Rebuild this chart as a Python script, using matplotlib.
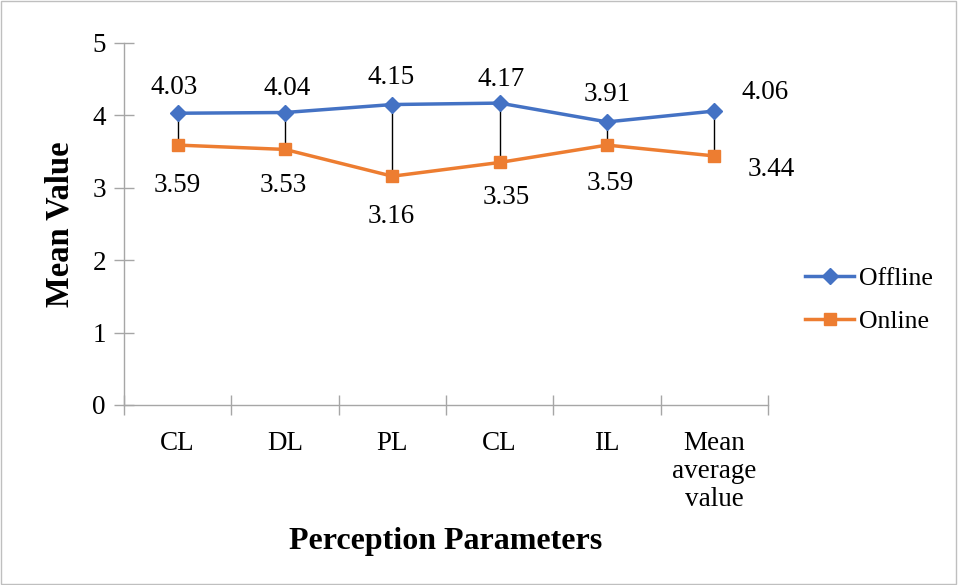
import matplotlib.pyplot as plt
from matplotlib.patches import Rectangle

categories = ['CL', 'DL', 'PL', 'CL', 'IL', 'Mean\naverage\nvalue']
offline = [4.03, 4.04, 4.15, 4.17, 3.91, 4.06]
online = [3.59, 3.53, 3.16, 3.35, 3.59, 3.44]

# label offsets in pixels (x, y) for each data label
offline_off = [(-4, 26), (2, 24), (-1, 27), (1, 24), (0, 27), (51, 19)]
online_off = [(0, -40), (-2, -36), (-1, -40), (7, -35), (3, -38), (57, -14)]

plt.rcParams['font.family'] = ['Liberation Serif', 'DejaVu Serif']

fig = plt.figure(figsize=(9.58, 5.85), dpi=100)
ax = fig.add_axes([124 / 958, 1 - 405 / 585, 644 / 958, 362 / 585])

x = list(range(len(categories)))
blue = '#4472C4'
orange = '#ED7D31'

# high-low lines
ax.vlines(x, online, offline, colors='black', linewidth=1, zorder=1)

ax.plot(x, offline, color=blue, lw=2.5, marker='D', markersize=8, label='Offline', zorder=3)
ax.plot(x, online, color=orange, lw=2.5, marker='s', markersize=9, label='Online', zorder=3)

for i in x:
    ax.annotate(f'{offline[i]:.2f}', (i, offline[i]), xytext=offline_off[i],
                textcoords='offset pixels', ha='center', va='center', fontsize=19.5)
    ax.annotate(f'{online[i]:.2f}', (i, online[i]), xytext=online_off[i],
                textcoords='offset pixels', ha='center', va='center', fontsize=19.5)

ax.set_xlim(-0.5, len(categories) - 0.5)
ax.set_ylim(0, 5)
ax.set_yticks([0, 1, 2, 3, 4, 5])
ax.set_xticks(x)
ax.set_xticklabels(categories, fontsize=19.5, linespacing=1.15, va='top')
ax.set_xticks([i - 0.5 for i in range(len(categories) + 1)], minor=True)
ax.tick_params(axis='x', which='major', length=0, pad=19)
ax.tick_params(axis='x', which='minor', direction='inout', length=14, color='#A6A6A6', width=1)
ax.tick_params(axis='y', direction='inout', length=14, color='#A6A6A6', width=1,
               labelsize=19.5, pad=6)

for s in ['top', 'right']:
    ax.spines[s].set_visible(False)
for s in ['left', 'bottom']:
    ax.spines[s].set_color('#A6A6A6')
    ax.spines[s].set_linewidth(1)

ax.set_ylabel('Mean Value', fontsize=23.5, fontweight='bold', labelpad=12)
ax.set_xlabel('Perception Parameters', fontsize=23, fontweight='bold', labelpad=11)

ax.legend(loc='center left', bbox_to_anchor=(1.022, 0.29), frameon=False,
          fontsize=18.5, handlelength=1.9, handletextpad=0.2, labelspacing=0.75)

fig.patches.append(Rectangle((0.001, 0.001), 0.997, 0.997, transform=fig.transFigure,
                             fill=False, edgecolor='#BFBFBF', linewidth=1))

fig.savefig('out.png', dpi=100)
